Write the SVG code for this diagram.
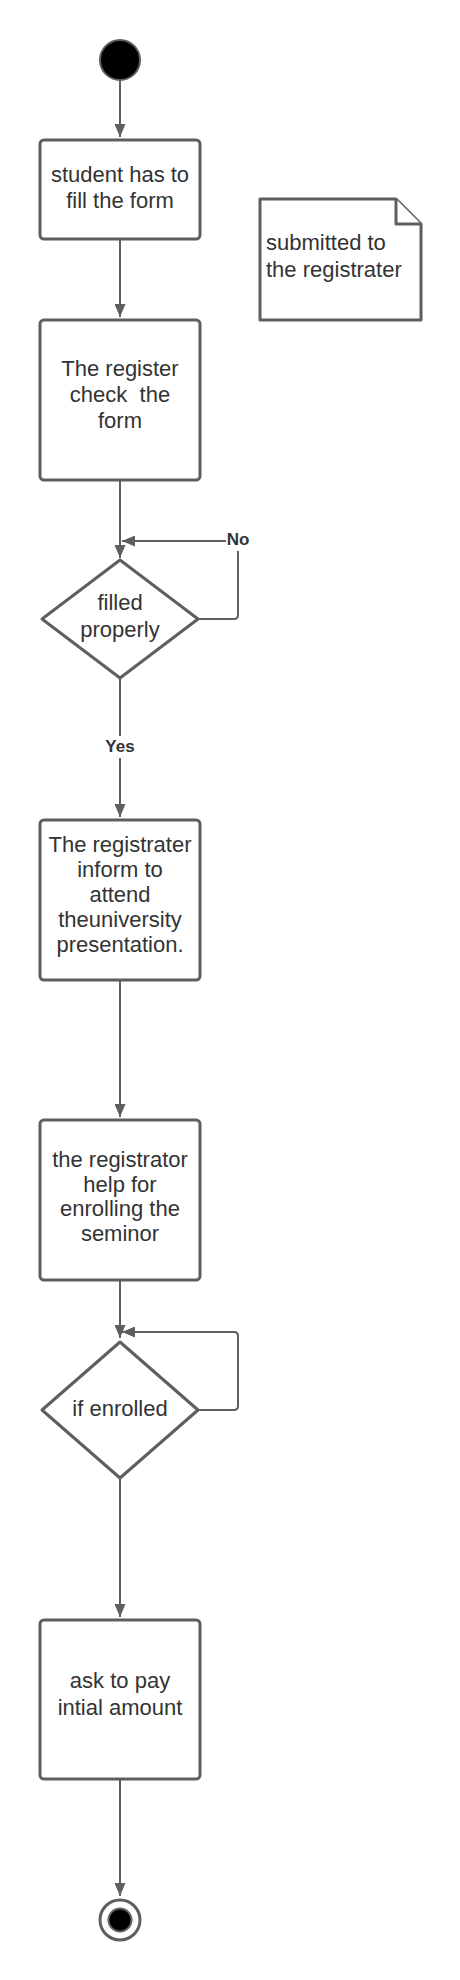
<svg xmlns="http://www.w3.org/2000/svg" width="460" height="1980" viewBox="0 0 460 1980">
  <style>
    .shape { fill: #ffffff; stroke: #5e5e5e; stroke-width: 3; stroke-linejoin: round; }
    .conn { fill: none; stroke: #5e5e5e; stroke-width: 2; }
    .txt { font-family: "Liberation Sans", Arial, sans-serif; font-size: 22px; fill: #333333; text-anchor: middle; }
    .note { text-anchor: start; }
    .lbl { font-family: "Liberation Sans", Arial, sans-serif; font-size: 17px; font-weight: bold; fill: #333333; text-anchor: middle; }
  </style>
  <defs>
    <marker id="arrow" viewBox="0 0 13 11" refX="13" refY="5.5" markerWidth="13" markerHeight="11" markerUnits="userSpaceOnUse" orient="auto">
      <path d="M0,0 L13,5.5 L0,11 Z" fill="#5e5e5e"/>
    </marker>
  </defs>
  <rect width="460" height="1980" fill="#ffffff"/>

  <g id="connectors">
    <path class="conn" d="M120,81 V137" marker-end="url(#arrow)"/>
    <path class="conn" d="M120,240 V317" marker-end="url(#arrow)"/>
    <path class="conn" d="M120,481 V558" marker-end="url(#arrow)"/>
    <path class="conn" d="M198,619 H234 Q238,619 238,615 V541 H122" marker-end="url(#arrow)"/>
    <path class="conn" d="M120,679 V817" marker-end="url(#arrow)"/>
    <path class="conn" d="M120,981 V1117" marker-end="url(#arrow)"/>
    <path class="conn" d="M120,1281 V1338" marker-end="url(#arrow)"/>
    <path class="conn" d="M198,1410 H234 Q238,1410 238,1406 V1336 Q238,1332 234,1332 H122" marker-end="url(#arrow)"/>
    <path class="conn" d="M120,1479 V1617" marker-end="url(#arrow)"/>
    <path class="conn" d="M120,1780 V1896" marker-end="url(#arrow)"/>
    <g id="label-no">
      <rect x="226" y="530" width="25" height="21" fill="#ffffff"/>
      <text class="lbl" x="238" y="545">No</text>
    </g>
    <g id="label-yes">
      <rect x="104" y="736" width="32" height="22" fill="#ffffff"/>
      <text class="lbl" x="120" y="752">Yes</text>
    </g>
  </g>

  <g id="start">
    <circle cx="120" cy="60" r="20" fill="#000000" stroke="#5e5e5e" stroke-width="2"/>
  </g>

  <g id="fill-form">
    <rect class="shape" x="40" y="140" width="160" height="99" rx="4"/>
    <text class="txt" x="120" y="182">student has to</text>
    <text class="txt" x="120" y="208">fill the form</text>
  </g>

  <g id="note">
    <path class="shape" d="M260,199 H396 L421,224 V320 H260 Z"/>
    <path class="shape" d="M396,199 V224 H421" fill="none"/>
    <text class="txt note" x="266" y="250">submitted to</text>
    <text class="txt note" x="266" y="277">the registrater</text>
  </g>

  <g id="check-form">
    <rect class="shape" x="40" y="320" width="160" height="160" rx="4"/>
    <text class="txt" x="120" y="376">The register</text>
    <text class="txt" x="120" y="402" xml:space="preserve">check  the</text>
    <text class="txt" x="120" y="428">form</text>
  </g>

  <g id="filled-properly">
    <polygon class="shape" points="120,560 198,619 120,678 42,619"/>
    <text class="txt" x="120" y="610">filled</text>
    <text class="txt" x="120" y="637">properly</text>
  </g>

  <g id="inform">
    <rect class="shape" x="40" y="820" width="160" height="160" rx="4"/>
    <text class="txt" x="120" y="852">The registrater</text>
    <text class="txt" x="120" y="877">inform to</text>
    <text class="txt" x="120" y="902">attend</text>
    <text class="txt" x="120" y="927">theuniversity</text>
    <text class="txt" x="120" y="952">presentation.</text>
  </g>

  <g id="help-enroll">
    <rect class="shape" x="40" y="1120" width="160" height="160" rx="4"/>
    <text class="txt" x="120" y="1167">the registrator</text>
    <text class="txt" x="120" y="1192">help for</text>
    <text class="txt" x="120" y="1216">enrolling the</text>
    <text class="txt" x="120" y="1241">seminor</text>
  </g>

  <g id="if-enrolled">
    <polygon class="shape" points="120,1342 198,1410 120,1478 42,1410"/>
    <text class="txt" x="120" y="1416">if enrolled</text>
  </g>

  <g id="pay">
    <rect class="shape" x="40" y="1620" width="160" height="159" rx="4"/>
    <text class="txt" x="120" y="1688">ask to pay</text>
    <text class="txt" x="120" y="1715">intial amount</text>
  </g>

  <g id="end">
    <circle cx="120" cy="1920" r="20" fill="#ffffff" stroke="#5e5e5e" stroke-width="3"/>
    <circle cx="120" cy="1920" r="11.5" fill="#000000" stroke="#5e5e5e" stroke-width="2"/>
  </g>
</svg>
